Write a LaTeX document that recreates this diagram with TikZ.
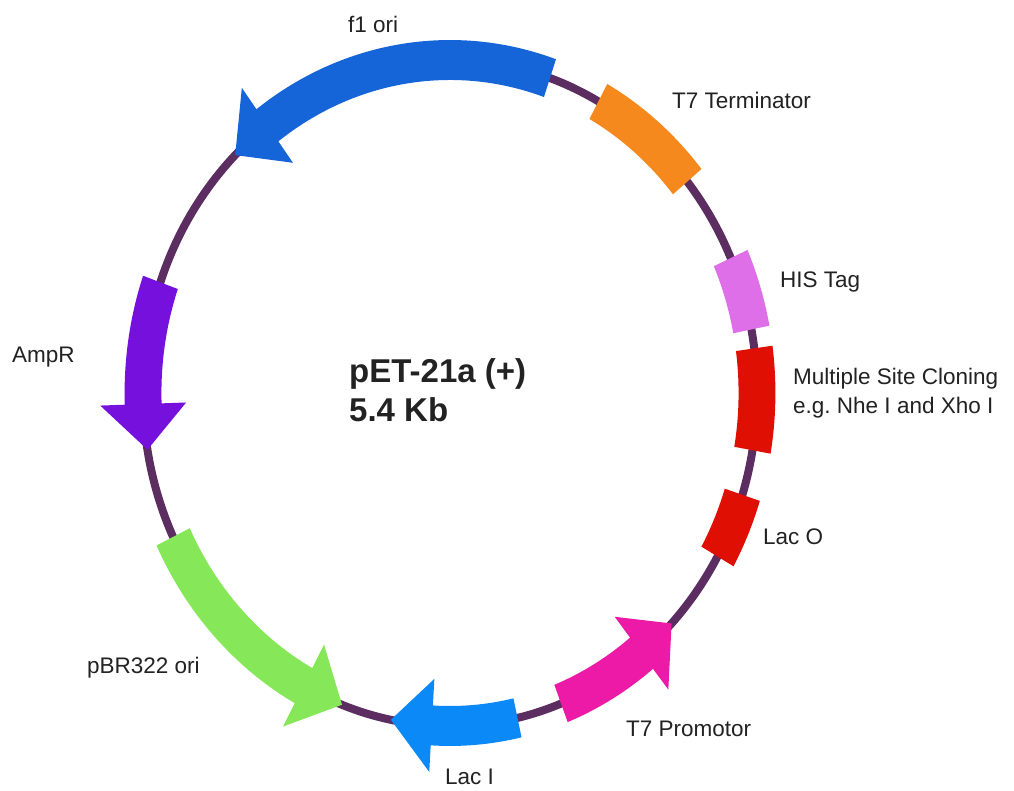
\documentclass[tikz,border=0pt]{standalone}
\usepackage{fontspec}
\setmainfont{Liberation Sans}
\frenchspacing
\definecolor{ringc}{HTML}{5C2D60}
\definecolor{f1c}{HTML}{1565D8}
\definecolor{termc}{HTML}{F5891E}
\definecolor{hisc}{HTML}{DF6FE8}
\definecolor{redc}{HTML}{E00F04}
\definecolor{promc}{HTML}{EC1AA6}
\definecolor{lacic}{HTML}{0A89F7}
\definecolor{pbrc}{HTML}{86E858}
\definecolor{ampc}{HTML}{7510DD}
\definecolor{txtc}{HTML}{222222}
% band box: color, start angle, end angle
\newcommand\bandbox[3]{%
  \fill[#1] (#2:1.06) arc[start angle=#2, end angle=#3, radius=1.06]
    -- (#3:0.94) arc[start angle=#3, end angle=#2, radius=0.94] -- cycle;}
% band arrow: color, tail angle, head base angle, tip angle
\newcommand\bandarrow[4]{%
  \fill[#1] (#2:1.06) arc[start angle=#2, end angle=#3, radius=1.06]
    -- (#3:1.14) -- (#4:1) -- (#3:0.86) -- (#3:0.94)
    arc[start angle=#3, end angle=#2, radius=0.94] -- cycle;}
\tikzset{
  lbl/.style={anchor=base west, inner sep=0pt, text=txtc,
    font=\fontsize{22.5}{29}\selectfont\frenchspacing, align=left},
  title/.style={anchor=base west, inner sep=0pt, text=txtc,
    font=\fontsize{33}{39}\selectfont\bfseries, align=left},
  ring/.style={draw=ringc, line width=8pt}
}
\begin{document}
\begin{tikzpicture}[x=1pt,y=1pt]
\useasboundingbox (0,0) rectangle (1014,790);
\fill[white] (0,0) rectangle (1014,790);
\begin{scope}[shift={(450,397)}, xscale=307, yscale=333]
  \draw[ring] (0,0) circle[radius=1];
  \bandarrow{f1c}{71}{126.5}{134.4}
  \bandbox{termc}{39.4}{61.1}
  \bandbox{hisc}{11}{23.9}
  \bandbox{redc}{-9.9}{7.7}
  \bandbox{redc}{-29.4}{-17.8}
  \bandarrow{promc}{-68.8}{-51.4}{-43.8}
  \bandarrow{lacic}{-77.3}{-93.4}{-101.1}
  \bandarrow{pbrc}{-154.4}{-118.5}{-110.6}
  \bandarrow{ampc}{160.6}{181.9}{189.8}
\end{scope}
\node[title] (name) at (349,368) {pET-21a (+)\\5.4 Kb};
\node[lbl] (f1) at (348,757) {f1 ori};
\node[lbl] (term) at (672,681) {T7 Terminator};
\node[lbl] (his) at (780,502) {HIS Tag};
\node[lbl] (msc) at (793,376) {Multiple Site Cloning\\e.g.\ Nhe I and Xho I};
\node[lbl] (laco) at (763,245) {Lac O};
\node[lbl] (prom) at (626,54) {T7 Promotor};
\node[lbl] (laci) at (445,6) {Lac I};
\node[lbl] (pbr) at (87,117) {pBR322 ori};
\node[lbl] (amp) at (12,427) {AmpR};
\end{tikzpicture}
\end{document}
